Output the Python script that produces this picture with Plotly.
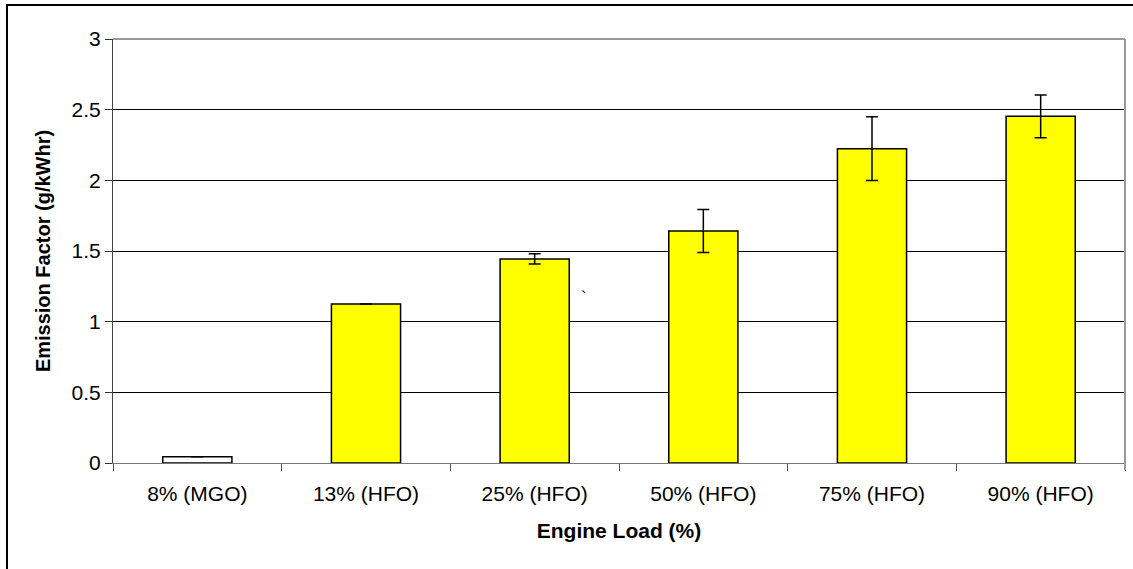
import plotly.graph_objects as go

categories = ["8% (MGO)", "13% (HFO)", "25% (HFO)", "50% (HFO)", "75% (HFO)", "90% (HFO)"]
values = [0.045, 1.125, 1.444, 1.642, 2.224, 2.453]
errors = [None, None, 0.036, 0.152, 0.226, 0.151]
fills = ["white", "yellow", "yellow", "yellow", "yellow", "yellow"]
y_ticks = [0, 0.5, 1, 1.5, 2, 2.5, 3]
y_tick_labels = ["0", "0.5", "1", "1.5", "2", "2.5", "3"]

fig = go.Figure()
fig.add_trace(go.Bar(
    x=categories,
    y=values,
    marker=dict(color=fills, line=dict(color="black", width=1.5)),
    error_y=dict(type="data", array=errors, visible=True, color="black", thickness=1.5, width=6),
    showlegend=False,
))

font = "Liberation Sans, Arial, sans-serif"
fig.update_layout(
    width=1133, height=569,
    margin=dict(l=113, r=8, t=39, b=106),
    paper_bgcolor="white", plot_bgcolor="white",
    bargap=0.59,
    font=dict(family=font, size=21, color="black"),
    xaxis=dict(
        tickson="boundaries", ticks="outside", ticklen=7, tickcolor="#555",
        showline=True, linecolor="#777", linewidth=1,
        showgrid=False, automargin=False,
        ticklabelstandoff=12,
        tickfont=dict(size=21),
        title=dict(text="<b>Engine Load (%)</b>", font=dict(size=21), standoff=19),
    ),
    yaxis=dict(
        range=[0, 3], tickvals=y_ticks, ticktext=y_tick_labels,
        ticks="outside", ticklen=7, tickcolor="#333",
        showline=True, linecolor="#444", linewidth=1,
        showgrid=True, gridcolor="#000", gridwidth=1,
        zeroline=False, automargin=False,
        tickfont=dict(size=21),
        title=dict(text="<b>Emission Factor (g/kWhr)</b>", font=dict(size=20), standoff=15),
    ),
    shapes=[
        dict(type="line", xref="paper", yref="paper", x0=1, x1=1, y0=-0.017, y1=1,
             line=dict(color="#999", width=2)),
        dict(type="line", xref="paper", yref="paper", x0=0, x1=1, y0=1, y1=1,
             line=dict(color="#999", width=2)),
        dict(type="rect", xref="paper", yref="paper",
             x0=(7 - 113) / 1012, x1=(1140 - 113) / 1012,
             y0=(463 - 580) / 424, y1=(463 - 5) / 424,
             line=dict(color="black", width=2), layer="above"),
    ],
    annotations=[
        dict(x=2.29, y=1.17, xref="x", yref="y", text="`", showarrow=False,
             font=dict(size=16, color="black")),
    ],
)

fig.write_html("out.html", post_script="document.body.style.margin='0';",
               config={"displayModeBar": False})
